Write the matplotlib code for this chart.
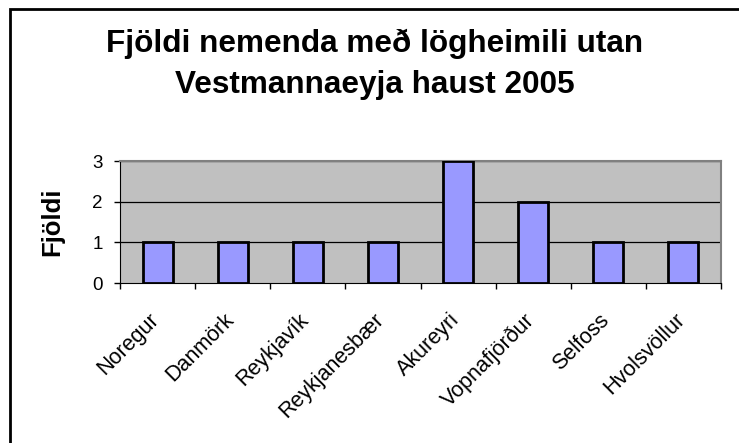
import matplotlib
matplotlib.use("Agg")
import matplotlib.pyplot as plt
from matplotlib.patches import Rectangle
from matplotlib.transforms import ScaledTranslation
import numpy as np

categories = ["Noregur", "Danmörk", "Reykjavík", "Reykjanesbær", "Akureyri",
              "Vopnafjörður", "Selfoss", "Hvolsvöllur"]
values = [1, 1, 1, 1, 3, 2, 1, 1]
yticks = [0, 1, 2, 3]
title_lines = ["Fjöldi nemenda með lögheimili utan", "Vestmannaeyja haust 2005"]
ylabel = "Fjöldi"

plt.rcParams['font.family'] = ['Liberation Sans', 'DejaVu Sans']

W, H = 739, 443
fig = plt.figure(figsize=(W/100, H/100), dpi=100)
fig.patch.set_facecolor('white')

# outer chart frame (extends past right/bottom edge)
fig.add_artist(Rectangle((9.5/W, -0.05), 1.2, 1 - 9.5/H + 0.05, transform=fig.transFigure,
                         fill=False, edgecolor='black', linewidth=2))

left, right, top, bottom = 120, 721, 161, 283
ax = fig.add_axes([left/W, 1 - bottom/H, (right-left)/W, (bottom-top)/H])
ax.set_facecolor('#C0C0C0')

x = np.arange(len(categories))
ax.bar(x, values, width=0.4, color='#9999FF', edgecolor='black', linewidth=2, zorder=3)
ax.set_xlim(-0.5, len(categories) - 0.5)
ax.set_ylim(0, 3)
ax.set_yticks(yticks)
ax.set_yticklabels([str(v) for v in yticks], fontsize=13.5)
for v in yticks[1:]:
    ax.axhline(v, color='black', linewidth=0.9, zorder=2)

# category boundary ticks
ax.set_xticks(np.arange(len(categories) + 1) - 0.5)
ax.set_xticklabels([])
ax.tick_params(axis='x', which='major', length=4.5, width=1, direction='out')
ax.tick_params(axis='y', length=4.5, width=1, direction='out', pad=8)

# rotated category labels
off = ScaledTranslation(-2/100, -34/100, fig.dpi_scale_trans)
for xi, cat in zip(x, categories):
    ax.text(xi, 0, cat, transform=ax.get_xaxis_transform() + off,
            rotation=45, ha='right', va='center', rotation_mode='anchor',
            fontsize=15.5, clip_on=False)

for s in ['top', 'right']:
    ax.spines[s].set_color('#808080')
    ax.spines[s].set_linewidth(1.5)
ax.spines['left'].set_color('black')
ax.spines['bottom'].set_color('black')

ax.set_ylabel(ylabel, fontsize=18.5, fontweight='bold')
ax.yaxis.label.set_verticalalignment('center')
ax.yaxis.set_label_coords((52 - left) / (right - left), 0.5)

fig.text(375/W, 1 - 52/H, title_lines[0], ha='center', va='baseline', fontsize=22.7,
         fontweight='bold')
fig.text(375/W, 1 - 93/H, title_lines[1], ha='center', va='baseline', fontsize=22.7,
         fontweight='bold')

fig.savefig("out.png", dpi=100)
